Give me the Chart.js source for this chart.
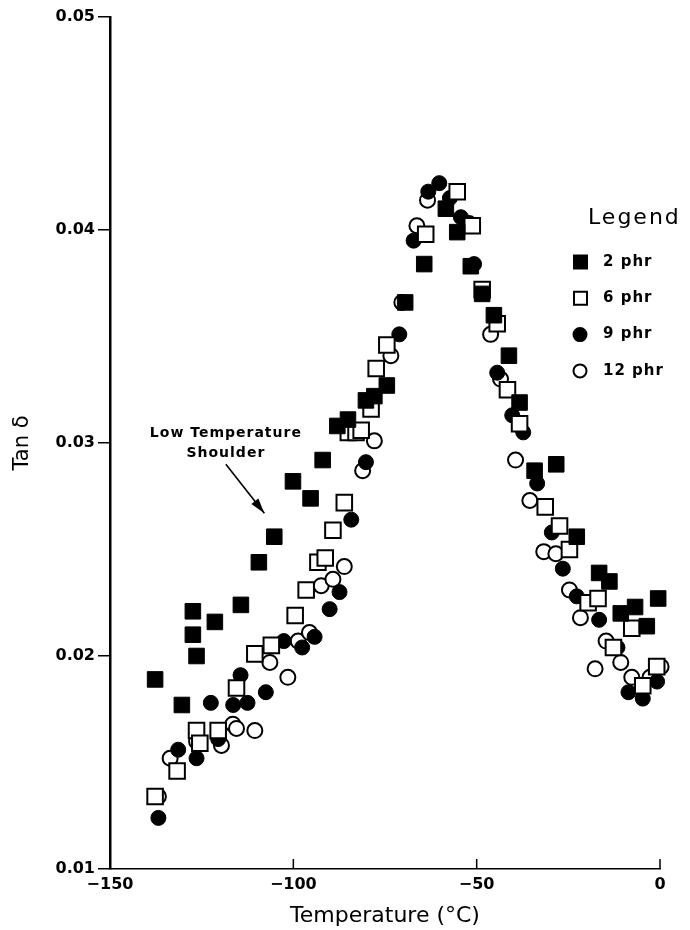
<!DOCTYPE html>
<html>
<head>
<meta charset="utf-8">
<script src="https://cdn.jsdelivr.net/npm/chart.js@4/dist/chart.umd.min.js"></script>
<style>
  html, body { margin: 0; padding: 0; background: #fff; }
  #wrap { width: 690px; height: 930px; }
</style>
</head>
<body>
<div id="wrap"><canvas id="tan-delta"></canvas></div>
<script>
// tick labels
const xTicks = [-150, -100, -50, 0];
const yTicks = [0.01, 0.02, 0.03, 0.04, 0.05];
const seriesNames = ["2 phr", "6 phr", "9 phr", "12 phr"];

// 2 phr (filled squares)
const temp2 = [-137.7, -130.4, -127.4, -127.4, -126.4, -121.4, -114.3, -109.4, -105.2, -100.1, -95.3, -92.0, -88.0, -85.1, -80.2, -77.9, -74.5, -69.5, -64.3, -58.4, -55.3, -51.6, -48.5, -45.3, -41.2, -38.3, -34.2, -28.3, -22.7, -16.6, -13.8, -10.7, -6.8, -3.6, -0.5];
const tan2 = [0.0189, 0.0177, 0.0221, 0.0210, 0.0200, 0.0216, 0.0224, 0.0244, 0.0256, 0.0282, 0.0274, 0.0292, 0.0308, 0.0311, 0.0320, 0.0322, 0.0327, 0.0366, 0.0384, 0.0410, 0.0399, 0.0383, 0.0370, 0.0360, 0.0341, 0.0319, 0.0287, 0.0290, 0.0256, 0.0239, 0.0235, 0.0220, 0.0223, 0.0214, 0.0227];

// 6 phr (open squares)
const temp6 = [-137.7, -131.7, -126.4, -125.5, -120.5, -115.5, -110.5, -106.0, -99.5, -96.5, -93.3, -91.3, -89.2, -86.1, -85.0, -82.9, -81.5, -78.8, -77.4, -74.5, -63.9, -55.3, -51.2, -48.5, -44.4, -41.6, -38.3, -31.3, -27.4, -24.7, -19.6, -16.9, -12.7, -7.7, -4.7, -0.9];
const tan6 = [0.0134, 0.0146, 0.0165, 0.0159, 0.0165, 0.0185, 0.0201, 0.0205, 0.0219, 0.0231, 0.0244, 0.0246, 0.0259, 0.0272, 0.0305, 0.0305, 0.0306, 0.0316, 0.0335, 0.0346, 0.0398, 0.0418, 0.0402, 0.0372, 0.0356, 0.0325, 0.0309, 0.0270, 0.0261, 0.0250, 0.0225, 0.0227, 0.0204, 0.0213, 0.0186, 0.0195];

// 9 phr (filled circles)
const temp9 = [-136.8, -131.4, -126.4, -122.5, -120.5, -116.4, -114.4, -112.5, -107.5, -102.6, -97.6, -94.2, -90.1, -87.4, -84.2, -80.2, -71.1, -67.2, -63.2, -60.2, -57.3, -54.3, -50.7, -44.4, -40.3, -37.3, -33.5, -29.5, -26.5, -22.7, -16.6, -11.6, -8.6, -4.7, -0.8];
const tan9 = [0.0124, 0.0156, 0.0152, 0.0178, 0.0161, 0.0177, 0.0191, 0.0178, 0.0183, 0.0207, 0.0204, 0.0209, 0.0222, 0.0230, 0.0264, 0.0291, 0.0351, 0.0395, 0.0418, 0.0422, 0.0415, 0.0406, 0.0384, 0.0333, 0.0313, 0.0305, 0.0281, 0.0258, 0.0241, 0.0228, 0.0217, 0.0204, 0.0183, 0.0180, 0.0188];

// 12 phr (open circles)
const temp12 = [-136.8, -133.6, -126.4, -119.6, -116.5, -115.5, -110.5, -106.4, -101.5, -98.7, -95.6, -92.4, -89.2, -86.1, -81.1, -77.9, -73.4, -70.4, -66.3, -63.4, -52.1, -46.2, -43.5, -39.4, -35.5, -31.7, -28.4, -24.7, -21.7, -17.7, -14.7, -10.7, -7.7, -2.7, 0.3];
const tan12 = [0.0134, 0.0152, 0.0160, 0.0158, 0.0168, 0.0166, 0.0165, 0.0197, 0.0190, 0.0207, 0.0211, 0.0233, 0.0236, 0.0242, 0.0287, 0.0301, 0.0341, 0.0366, 0.0402, 0.0414, 0.0403, 0.0351, 0.0330, 0.0292, 0.0273, 0.0249, 0.0248, 0.0231, 0.0218, 0.0194, 0.0207, 0.0197, 0.0190, 0.0190, 0.0195];

const FONT = "'DejaVu Sans', sans-serif";

function pairs(xs, ys) {
  return xs.map((x, i) => ({ x: x, y: ys[i] }));
}

const markers = [
  { style: "rect", filled: true },
  { style: "rect", filled: false },
  { style: "circle", filled: true },
  { style: "circle", filled: false },
];

function makeSet(i, xs, ys) {
  const m = markers[i];
  return {
    label: seriesNames[i],
    data: pairs(xs, ys),
    showLine: false,
    clip: false,
    pointStyle: m.style,
    pointRadius: m.style === "rect" ? 11 : 7.5,
    pointBackgroundColor: m.filled ? "#000" : "#fff",
    pointBorderColor: "#000",
    pointBorderWidth: m.filled ? 1 : 2,
  };
}

// inward x ticks, legend box and the shoulder note
const extras = {
  id: "extras",
  afterDraw(chart) {
    const ctx = chart.ctx;
    const xs = chart.scales.x, ys = chart.scales.y;
    const area = chart.chartArea;
    ctx.save();
    ctx.strokeStyle = "#000";
    ctx.lineWidth = 1.5;
    xTicks.forEach(v => {
      const px = xs.getPixelForValue(v);
      ctx.beginPath();
      ctx.moveTo(px, area.bottom);
      ctx.lineTo(px, area.bottom - 10);
      ctx.stroke();
    });

    // legend
    ctx.fillStyle = "#000";
    ctx.textBaseline = "middle";
    ctx.textAlign = "left";
    ctx.font = "22px " + FONT;
    ctx.letterSpacing = "2px";
    ctx.fillText("Legend", 588, 218);
    ctx.font = "bold 15px " + FONT;
    ctx.letterSpacing = "1px";
    seriesNames.forEach((name, i) => {
      const y = 262 + i * 36.3;
      const m = markers[i];
      ctx.lineWidth = 2;
      ctx.fillStyle = m.filled ? "#000" : "#fff";
      ctx.beginPath();
      if (m.style === "rect") ctx.rect(574, y - 6.5, 13, 13);
      else ctx.arc(580, y, 6.5, 0, Math.PI * 2);
      ctx.fill();
      ctx.stroke();
      ctx.fillStyle = "#000";
      ctx.fillText(name, 603, y);
    });

    // annotation
    ctx.textAlign = "center";
    ctx.font = "bold 14px " + FONT;
    ctx.letterSpacing = "1px";
    ctx.fillText("Low Temperature", xs.getPixelForValue(-118.4), ys.getPixelForValue(0.03047));
    ctx.fillText("Shoulder", xs.getPixelForValue(-118.4), ys.getPixelForValue(0.02953));
    ctx.letterSpacing = "0px";
    const x0 = xs.getPixelForValue(-118.4), y0 = ys.getPixelForValue(0.0290);
    const x1 = xs.getPixelForValue(-107.9), y1 = ys.getPixelForValue(0.0267);
    ctx.lineWidth = 1.6;
    ctx.beginPath();
    ctx.moveTo(x0, y0);
    ctx.lineTo(x1, y1);
    ctx.stroke();
    const ang = Math.atan2(y1 - y0, x1 - x0);
    const len = 16, half = 0.28;
    ctx.beginPath();
    ctx.moveTo(x1, y1);
    ctx.lineTo(x1 - len * Math.cos(ang - half), y1 - len * Math.sin(ang - half));
    ctx.lineTo(x1 - len * Math.cos(ang + half), y1 - len * Math.sin(ang + half));
    ctx.closePath();
    ctx.fill();
    ctx.restore();
  }
};

new Chart(document.getElementById("tan-delta"), {
  type: "scatter",
  data: {
    datasets: [
      makeSet(0, temp2, tan2),
      makeSet(1, temp6, tan6),
      makeSet(2, temp9, tan9),
      makeSet(3, temp12, tan12),
    ],
  },
  options: {
    responsive: true,
    maintainAspectRatio: false,
    animation: false,
    devicePixelRatio: 1,
    events: [],
    layout: { padding: { left: 0, top: 17, right: 30, bottom: 0 } },
    plugins: {
      legend: { display: false },
      tooltip: { enabled: false },
    },
    scales: {
      x: {
        type: "linear",
        min: -150,
        max: 0,
        afterBuildTicks: s => { s.ticks = xTicks.map(v => ({ value: v })); },
        afterFit: s => { s.height = 61; },
        grid: { drawOnChartArea: false, drawTicks: false },
        border: { color: "#000", width: 1.5 },
        ticks: {
          color: "#000",
          padding: 6,
          maxRotation: 0,
          font: { family: FONT, size: 16, weight: "bold" },
          callback: v => (v < 0 ? "\u2212" + Math.abs(v) : String(v)),
        },
        title: {
          display: true,
          text: "Temperature (\u00b0C)",
          color: "#000",
          font: { family: FONT, size: 22 },
          padding: { top: 0, bottom: 1 },
        },
      },
      y: {
        type: "linear",
        min: 0.01,
        max: 0.05,
        afterBuildTicks: s => { s.ticks = yTicks.map(v => ({ value: v })); },
        afterFit: s => { s.width = 110; },
        grid: { drawOnChartArea: false, drawTicks: true, tickLength: 12, color: "#000", lineWidth: 1.5 },
        border: { color: "#000", width: 2.5 },
        ticks: {
          color: "#000",
          padding: 3,
          font: { family: FONT, size: 16, weight: "bold" },
          callback: v => v.toFixed(2),
        },
        title: {
          display: true,
          text: "Tan \u03b4",
          color: "#000",
          font: { family: FONT, size: 21 },
          padding: { top: 10, bottom: 0 },
        },
      },
    },
  },
  plugins: [extras],
});
</script>
</body>
</html>
